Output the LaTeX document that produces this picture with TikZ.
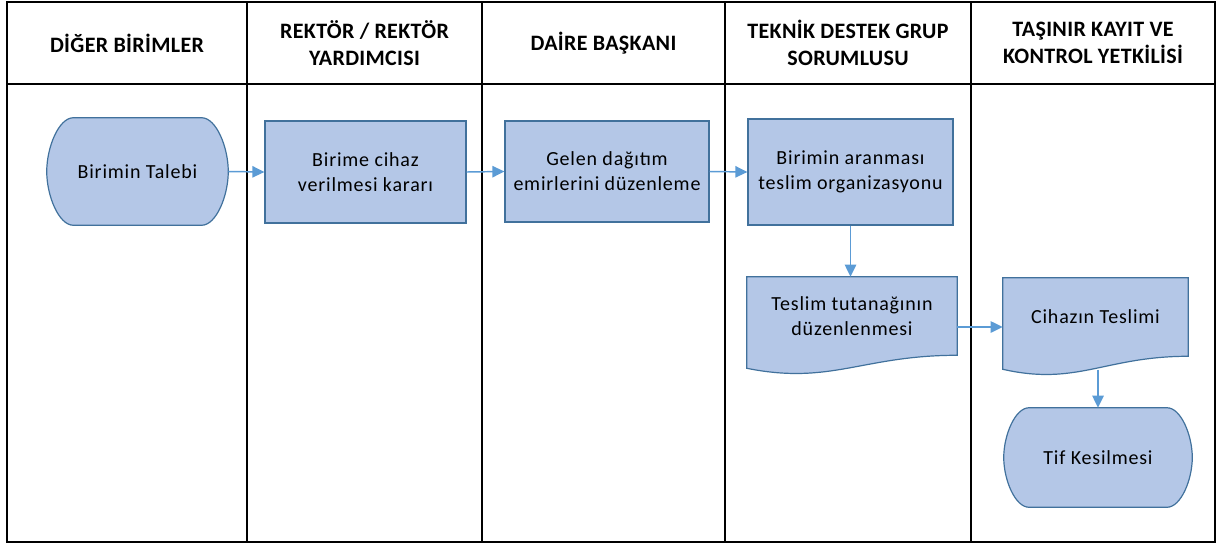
\documentclass[tikz,border=0pt]{standalone}
\usepackage{fontspec}
\setmainfont{Carlito}
\newfontfamily\bodyfont[LetterSpace=4]{Carlito}
\newfontfamily\headfont[LetterSpace=1.5]{Carlito}
\usetikzlibrary{arrows.meta,calc,backgrounds}
\definecolor{boxfill}{HTML}{B4C7E7}
\definecolor{boxline}{HTML}{41719C}
\definecolor{arrowc}{HTML}{5B9BD5}
\tikzset{
  gridline/.style={line width=1.5pt, draw=black},
  head/.style={font=\headfont\fontsize{16.5}{20}\selectfont\bfseries, align=center, inner sep=0pt},
  bodytext/.style={font=\bodyfont\fontsize{15}{18.75}\selectfont, align=center, inner sep=0pt},
  proc/.style={bodytext, rectangle, draw=boxline, fill=boxfill, line width=0.9pt},
  plainbox/.style={bodytext, rectangle},
  shapeline/.style={draw=boxline, fill=boxfill, line width=0.9pt},
  arr/.style={draw=arrowc, line width=1.1pt, -{Triangle[length=9pt,width=8.5pt]}},
}
\newcommand\termshape[2]{%
  \draw[shapeline] let \p1=(#1.north west), \p2=(#1.south east), \n1={(\y1-\y2)/2} in
    (\x1+#2,\y1) -- (\x2-#2,\y1)
    .. controls (\x2-0.4477*#2,\y1) and (\x2,\y1-0.5523*\n1) .. (\x2,\y1-\n1)
    .. controls (\x2,\y2+0.5523*\n1) and (\x2-0.4477*#2,\y2) .. (\x2-#2,\y2)
    -- (\x1+#2,\y2)
    .. controls (\x1+0.4477*#2,\y2) and (\x1,\y2+0.5523*\n1) .. (\x1,\y2+\n1)
    .. controls (\x1,\y1-0.5523*\n1) and (\x1+0.4477*#2,\y1) .. cycle;}
\newcommand\docshape[1]{%
  \draw[shapeline] let \p1=(#1.north west), \p2=(#1.south east), \n1={\x2-\x1} in
    (\x1,\y1) -- (\x2,\y1) -- (\x2,\y2)
    .. controls (\x1+0.55*\n1,\y2) and (\x1+0.4*\n1,\y2-22.5pt) .. (\x1,\y2-9.75pt)
    -- cycle;}
\begin{document}
\begin{tikzpicture}[x=0.75pt,y=-0.75pt]
\useasboundingbox (0,0) rectangle (1217,547);
% table
\draw[gridline] (7,2) rectangle (1215,542);
\draw[gridline] (7,84) -- (1215,84);
\foreach \xx in {247,482,725,971} \draw[gridline] (\xx,2) -- (\xx,542);
% headers
\node[head] (h1) at (127,43) {DİĞER BİRİMLER};
\node[head] (h2) at (364.5,43) {REKTÖR / REKTÖR\\YARDIMCISI};
\node[head] (h3) at (603.5,43) {DAİRE BAŞKANI};
\node[head] (h4) at (848,43) {TEKNİK DESTEK GRUP\\SORUMLUSU};
\node[head] (h5) at (1093,43) {TAŞINIR KAYIT VE\\KONTROL YETKİLİSİ};
% shapes
\node[plainbox, minimum width=135.75pt, minimum height=80.25pt] (talep) at (137.5,171.5) {Birimin Talebi};
\node[proc, minimum width=150.75pt, minimum height=76.5pt] (karar) at (365.5,172) {Birime cihaz\\verilmesi kararı};
\node[proc, minimum width=153pt, minimum height=75.75pt] (dagitim) at (607,171.5) {Gelen dağıtım\\emirlerini düzenleme};
\node[proc, minimum width=153.75pt, minimum height=79.5pt] (organ) at (850.5,172) {Birimin aranması\\teslim organizasyonu};
\node[plainbox, minimum width=157.5pt, minimum height=58.5pt] (tutanak) at (852,316) {Teslim tutanağının\\düzenlenmesi};
\node[plainbox, minimum width=138.75pt, minimum height=58.5pt] (teslim) at (1095.5,317) {Cihazın Teslimi};
\node[plainbox, minimum width=141pt, minimum height=74.25pt] (tif) at (1098,457.5) {Tif Kesilmesi};
\begin{pgfonlayer}{background}
  \termshape{talep}{20pt}
  \termshape{tif}{19pt}
  \docshape{tutanak}
  \docshape{teslim}
\end{pgfonlayer}
% connectors
\coordinate (w1) at ([yshift=-8.25pt]tutanak.east);
\coordinate (w2) at ([yshift=-10pt]teslim.south -| tif.north);
\draw[arr] (talep.east) -- (karar.west);
\draw[arr] (karar.east) -- (dagitim.west);
\draw[arr] (dagitim.east) -- (organ.west);
\draw[arr] (organ.south) -- (organ.south |- tutanak.north);
\draw[arr] (w1) -- (w1 -| teslim.west);
\draw[arr] (w2) -- (tif.north);
\end{tikzpicture}
\end{document}
